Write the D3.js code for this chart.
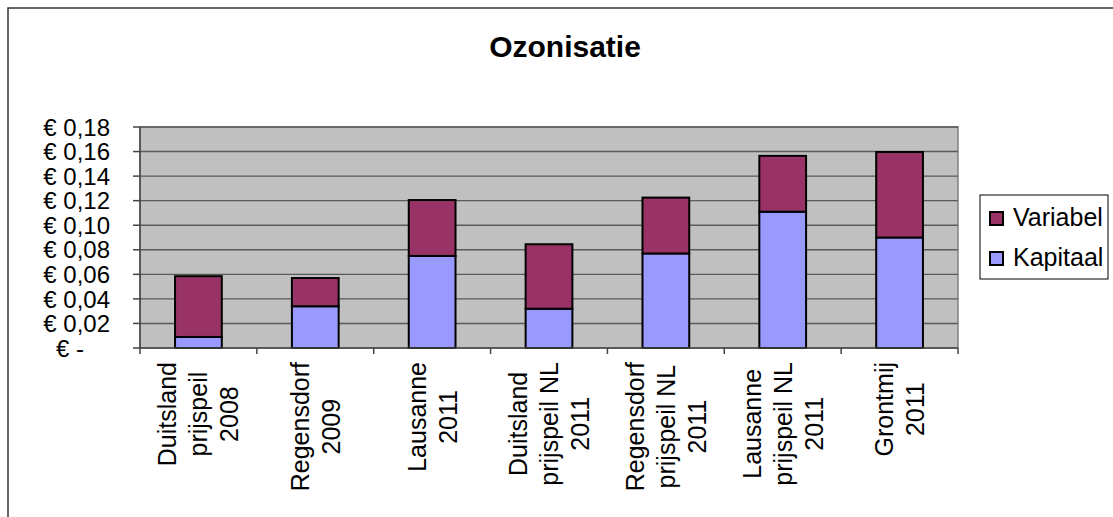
<!DOCTYPE html>
<html>
<head>
<meta charset="utf-8">
<script src="https://cdn.jsdelivr.net/npm/d3@7"></script>
<style>
  body { margin: 0; background: #fff; }
  svg { display: block; font-family: "Liberation Sans", Arial, sans-serif; }
</style>
</head>
<body>
<svg width="1113" height="517"></svg>
<script>
// data
let categories = [
    ["Duitsland", "prijspeil", "2008"],
    ["Regensdorf", "2009"],
    ["Lausanne", "2011"],
    ["Duitsland", "prijspeil NL", "2011"],
    ["Regensdorf", "prijspeil NL", "2011"],
    ["Lausanne", "prijspeil NL", "2011"],
    ["Grontmij", "2011"]
];
let kapitaal = [0.009, 0.034, 0.075, 0.032, 0.077, 0.111, 0.090];
let variabel = [0.0495, 0.023, 0.0455, 0.0525, 0.0455, 0.0455, 0.0696];
let yTicks = [0, 0.02, 0.04, 0.06, 0.08, 0.10, 0.12, 0.14, 0.16, 0.18];
let seriesNames = ["Variabel", "Kapitaal"];
let colors = { Variabel: "#993366", Kapitaal: "#9999ff" };

let svg = d3.select("svg");

// outer chart border (only top and left visible)
svg.append("rect")
    .attr("x", 8).attr("y", 8)
    .attr("width", 1300).attr("height", 700)
    .attr("fill", "none")
    .attr("stroke", "#333")
    .attr("stroke-width", 1.5);

// title
svg.append("text")
    .attr("x", 565).attr("y", 57)
    .attr("text-anchor", "middle")
    .style("font-size", "30px")
    .style("font-weight", "bold")
    .text("Ozonisatie");

let plotL = 140, plotR = 958, plotT = 127, plotB = 348;

let x = d3.scaleBand()
    .domain(d3.range(categories.length))
    .range([plotL, plotR])
    .paddingInner(0.6)
    .paddingOuter(0.3);

let y = d3.scaleLinear().domain([0, 0.18]).range([plotB, plotT]);

// plot area
svg.append("rect")
    .attr("x", plotL).attr("y", plotT)
    .attr("width", plotR - plotL).attr("height", plotB - plotT)
    .attr("fill", "#c0c0c0")
    .attr("stroke", "#808080")
    .attr("stroke-width", 1.5);

// gridlines
svg.append("g")
    .selectAll("line")
    .data(yTicks.slice(1))
    .join("line")
    .attr("x1", plotL).attr("x2", plotR)
    .attr("y1", d => y(d)).attr("y2", d => y(d))
    .attr("stroke", "#5a5a5a")
    .attr("stroke-width", 1.4);

// stacked bars
let stack = categories.map((c, i) => ({ i: i, Kapitaal: kapitaal[i], Variabel: variabel[i] }));
let series = d3.stack().keys(["Kapitaal", "Variabel"])(stack);

svg.append("g")
    .selectAll("g")
    .data(series)
    .join("g")
    .attr("fill", d => colors[d.key])
    .selectAll("rect")
    .data(d => d)
    .join("rect")
    .attr("x", d => x(d.data.i))
    .attr("width", x.bandwidth())
    .attr("y", d => y(d[1]))
    .attr("height", d => y(d[0]) - y(d[1]))
    .attr("stroke", "#000")
    .attr("stroke-width", 2);

// y axis
svg.append("line")
    .attr("x1", plotL).attr("x2", plotL)
    .attr("y1", plotT).attr("y2", plotB)
    .attr("stroke", "#444").attr("stroke-width", 1.5);

let yAx = svg.append("g");
yAx.selectAll("line")
    .data(yTicks)
    .join("line")
    .attr("x1", plotL - 7).attr("x2", plotL)
    .attr("y1", d => y(d)).attr("y2", d => y(d))
    .attr("stroke", "#444").attr("stroke-width", 1.5);

yAx.selectAll("text")
    .data(yTicks)
    .join("text")
    .attr("x", d => d === 0 ? 84 : 110)
    .attr("y", d => y(d))
    .attr("dy", "0.36em")
    .attr("text-anchor", "end")
    .style("font-size", "24px")
    .text(d => d === 0 ? "€ -" : "€ " + d.toFixed(2).replace(".", ","));

// x axis
svg.append("line")
    .attr("x1", plotL).attr("x2", plotR)
    .attr("y1", plotB).attr("y2", plotB)
    .attr("stroke", "#444").attr("stroke-width", 1.5);

svg.append("g")
    .selectAll("line")
    .data(d3.range(categories.length + 1))
    .join("line")
    .attr("x1", d => plotL + d * x.step()).attr("x2", d => plotL + d * x.step())
    .attr("y1", plotB).attr("y2", plotB + 6)
    .attr("stroke", "#444").attr("stroke-width", 1.5);

// x labels, rotated, lines centred
categories.forEach(function (lines, i) {
    let cx = x(i) + x.bandwidth() / 2;
    let g = svg.append("g")
        .attr("transform", "translate(" + cx + ",362) rotate(-90)");
    let n = lines.length;
    let texts = lines.map(function (t, k) {
        return g.append("text")
            .attr("y", (k - (n - 1) / 2) * 31 + 9)
            .attr("text-anchor", "middle")
            .style("font-size", "25px")
            .text(t);
    });
    let maxLen = d3.max(texts, t => t.node().getComputedTextLength());
    texts.forEach(t => t.attr("x", -maxLen / 2));
});

// legend
let legend = svg.append("g");
legend.append("rect")
    .attr("x", 980).attr("y", 195)
    .attr("width", 128).attr("height", 84)
    .attr("fill", "#fff")
    .attr("stroke", "#000")
    .attr("stroke-width", 1);

let items = legend.selectAll("g")
    .data(seriesNames)
    .join("g")
    .attr("transform", (d, i) => "translate(0," + (i * 40) + ")");

items.append("rect")
    .attr("x", 990).attr("y", 212)
    .attr("width", 13).attr("height", 13)
    .attr("fill", d => colors[d])
    .attr("stroke", "#000")
    .attr("stroke-width", 2);

items.append("text")
    .attr("x", 1013).attr("y", 226)
    .style("font-size", "25px")
    .text(d => d);
</script>
</body>
</html>
